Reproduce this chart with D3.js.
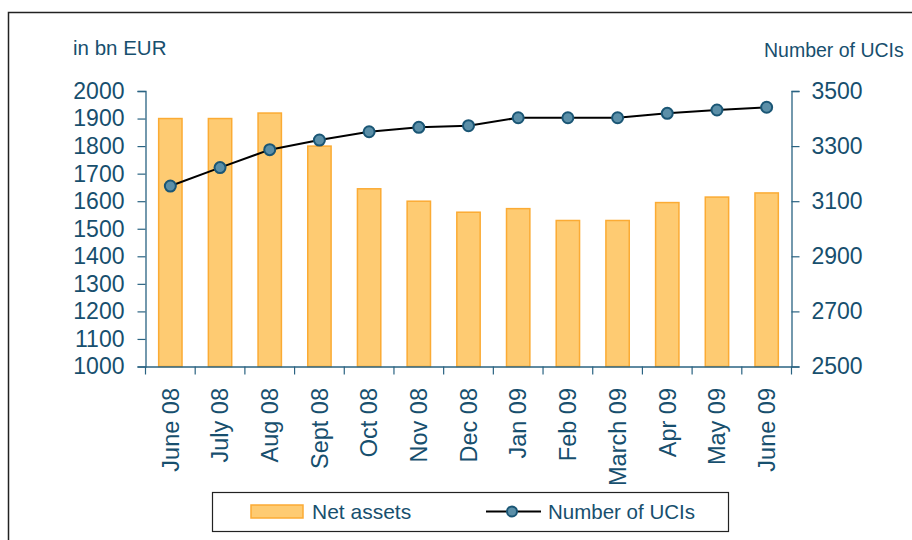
<!DOCTYPE html>
<html>
<head>
<meta charset="utf-8">
<script src="https://cdn.jsdelivr.net/npm/d3@7"></script>
<style>
  html, body { margin: 0; padding: 0; background: #fff; }
  svg { display: block; font-family: "Liberation Sans", Arial, sans-serif; }
</style>
</head>
<body>
<svg id="chart" width="912" height="540"></svg>
<script>
const categories = ["June 08","July 08","Aug 08","Sept 08","Oct 08","Nov 08","Dec 08","Jan 09","Feb 09","March 09","Apr 09","May 09","June 09"];
const netAssets = [1900, 1900, 1920, 1800, 1645, 1600, 1560, 1573, 1530, 1530, 1595, 1615, 1630];
const numberOfUCIs = [3155, 3222, 3287, 3322, 3352, 3368, 3374, 3403, 3403, 3403, 3419, 3431, 3441];
const leftTicks = [1000,1100,1200,1300,1400,1500,1600,1700,1800,1900,2000];
const rightTicks = [2500,2700,2900,3100,3300,3500];

const textColor = "#174f6e";
const axisColor = "#2a6382";
const barFill = "#fecb72";
const barStroke = "#fbab34";
const markerFill = "#5b8fa8";
const markerStroke = "#1a5675";

const svg = d3.select("#chart");

// outer frame
svg.append("path")
  .attr("d", "M8.5,545 L8.5,12.5 L915,12.5")
  .attr("fill", "none").attr("stroke", "#222").attr("stroke-width", 1.5);

const plot = { left: 145.5, right: 791.5, top: 91, bottom: 366.5 };

const x = d3.scaleBand().domain(categories).range([plot.left, plot.right]).paddingInner(0).paddingOuter(0);
const yL = d3.scaleLinear().domain([1000, 2000]).range([plot.bottom, plot.top]);
const yR = d3.scaleLinear().domain([2500, 3500]).range([plot.bottom, plot.top]);

// bars
const barW = x.bandwidth() * 0.47;
svg.append("g").selectAll("rect").data(netAssets).join("rect")
  .attr("x", (d, i) => x(categories[i]) + (x.bandwidth() - barW) / 2)
  .attr("y", d => yL(d))
  .attr("width", barW)
  .attr("height", d => yL(1000) - yL(d))
  .attr("fill", barFill)
  .attr("stroke", barStroke)
  .attr("stroke-width", 1.5);

// left axis
const axL = svg.append("g").attr("transform", `translate(${plot.left},0)`)
  .call(d3.axisLeft(yL).tickValues(leftTicks).tickSize(8).tickPadding(13).tickFormat(d3.format("d")));
// right axis
const axR = svg.append("g").attr("transform", `translate(${plot.right},0)`)
  .call(d3.axisRight(yR).tickValues(rightTicks).tickSize(8).tickPadding(12).tickFormat(d3.format("d")));
// bottom axis with ticks at band boundaries
const axB = svg.append("g").attr("transform", `translate(0,${plot.bottom})`)
  .call(d3.axisBottom(x).tickSize(0).tickFormat(""));
axB.selectAll(".tick").remove();
const boundaries = categories.map(c => x(c)).concat([plot.right]);
axB.selectAll("line.bt").data(boundaries).join("line")
  .attr("class", "bt")
  .attr("x1", d => d).attr("x2", d => d)
  .attr("y1", 0).attr("y2", 8)
  .attr("stroke", axisColor).attr("stroke-width", 1.2);

[axL, axR, axB].forEach(a => {
  a.select(".domain").attr("stroke", axisColor).attr("stroke-width", 1.3);
  a.selectAll(".tick line").attr("stroke", axisColor).attr("stroke-width", 1.2);
  a.selectAll(".tick text").attr("fill", textColor).attr("font-size", 23)
    .attr("font-family", "'Liberation Sans', Arial, sans-serif");
});

// category labels
svg.append("g").selectAll("text").data(categories).join("text")
  .attr("transform", d => `translate(${x(d) + x.bandwidth() / 2},388) rotate(-90)`)
  .attr("text-anchor", "end")
  .attr("dy", "0.35em")
  .attr("fill", textColor)
  .attr("font-size", 23.5)
  .text(d => d);

// line
const lineGen = d3.line()
  .x((d, i) => x(categories[i]) + x.bandwidth() / 2)
  .y(d => yR(d));
svg.append("path").datum(numberOfUCIs)
  .attr("d", lineGen)
  .attr("fill", "none").attr("stroke", "#000").attr("stroke-width", 2);
svg.append("g").selectAll("circle").data(numberOfUCIs).join("circle")
  .attr("cx", (d, i) => x(categories[i]) + x.bandwidth() / 2)
  .attr("cy", d => yR(d))
  .attr("r", 5.5)
  .attr("fill", markerFill).attr("stroke", markerStroke).attr("stroke-width", 2);

// axis titles
svg.append("text").attr("x", 73).attr("y", 55).attr("fill", textColor)
  .attr("font-size", 20.5).text("in bn EUR");
svg.append("text").attr("x", 764).attr("y", 56.5).attr("fill", textColor)
  .attr("font-size", 19.5).text("Number of UCIs");

// legend
const lg = svg.append("g");
lg.append("rect").attr("x", 212.5).attr("y", 492.5).attr("width", 516).attr("height", 39)
  .attr("fill", "#fff").attr("stroke", "#222").attr("stroke-width", 1.2);
lg.append("rect").attr("x", 251).attr("y", 505).attr("width", 52).attr("height", 13)
  .attr("fill", barFill).attr("stroke", barStroke).attr("stroke-width", 1.5);
lg.append("text").attr("x", 312).attr("y", 519).attr("fill", textColor)
  .attr("font-size", 21).text("Net assets");
lg.append("line").attr("x1", 486).attr("x2", 541).attr("y1", 511.5).attr("y2", 511.5)
  .attr("stroke", "#000").attr("stroke-width", 2);
lg.append("circle").attr("cx", 512).attr("cy", 511.5).attr("r", 5)
  .attr("fill", markerFill).attr("stroke", markerStroke).attr("stroke-width", 2);
lg.append("text").attr("x", 548).attr("y", 519).attr("fill", textColor)
  .attr("font-size", 20.5).text("Number of UCIs");
</script>
</body>
</html>
